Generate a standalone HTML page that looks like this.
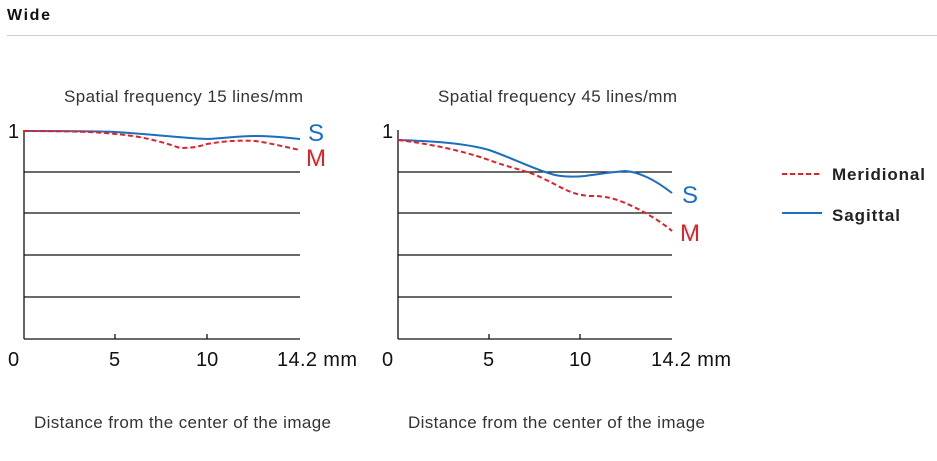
<!DOCTYPE html>
<html><head><style>
body{margin:0;background:#fff;width:937px;height:456px;overflow:hidden;font-family:"Liberation Sans",sans-serif}
</style></head><body>
<svg width="937" height="456" xmlns="http://www.w3.org/2000/svg" font-family="Liberation Sans, sans-serif">
<text x="7" y="20" font-size="16" font-weight="bold" fill="#111" textLength="43">Wide</text>
<line x1="7" y1="35.5" x2="937" y2="35.5" stroke="#ccc" stroke-width="1"/>
<g fill="#333" font-size="17">
<text x="64" y="102" textLength="239">Spatial frequency 15 lines/mm</text>
<text x="438" y="102" textLength="239">Spatial frequency 45 lines/mm</text>
<text x="34" y="428" textLength="297">Distance from the center of the image</text>
<text x="408" y="428" textLength="297">Distance from the center of the image</text>
</g>
<g stroke="#111" stroke-width="1.3">
<line x1="24" y1="130" x2="24" y2="339"/><line x1="24" y1="339" x2="300" y2="339"/>
<line x1="24" y1="172" x2="300" y2="172"/><line x1="24" y1="213" x2="300" y2="213"/>
<line x1="24" y1="255" x2="300" y2="255"/><line x1="24" y1="297" x2="300" y2="297"/>
<line x1="115" y1="334" x2="115" y2="339"/><line x1="207" y1="334" x2="207" y2="339"/>
<line x1="398" y1="130" x2="398" y2="339"/><line x1="398" y1="339" x2="672" y2="339"/>
<line x1="398" y1="172" x2="672" y2="172"/><line x1="398" y1="213" x2="672" y2="213"/>
<line x1="398" y1="255" x2="672" y2="255"/><line x1="398" y1="297" x2="672" y2="297"/>
<line x1="489" y1="334" x2="489" y2="339"/><line x1="580" y1="334" x2="580" y2="339"/>
</g>
<g font-size="20" fill="#111">
<text x="8" y="138">1</text><text x="382" y="138">1</text>
<text x="8" y="366">0</text><text x="109" y="366">5</text><text x="196" y="366">10</text><text x="277" y="366" textLength="80">14.2 mm</text>
<text x="382" y="366">0</text><text x="483" y="366">5</text><text x="569" y="366">10</text><text x="651" y="366" textLength="80">14.2 mm</text>
</g>
<g fill="none" stroke-width="2">
<path d="M24,131 C70,131 100,131 115,132 C150,134 180,138 207,139 C225,138 240,136 255,136 C275,136 290,138 300,139" stroke="#1a6fc0"/>
<path d="M24,131 C70,131 100,132 115,134 C140,136 160,141 180,148 C195,148 200,146 207,144 C225,141 240,140 255,141 C270,143 285,147 300,150" stroke="#e0202a" stroke-dasharray="5,3"/>
<path d="M398,140 C430,141 465,143 489,150 C515,159 535,170 555,175 C565,177 575,177 585,176 C600,174 612,172 625,171 C640,172 655,180 672,193" stroke="#1a6fc0"/>
<path d="M398,140 C430,144 460,150 489,160 C510,168 525,170 540,177 C560,186 570,195 590,196 C610,196 620,200 640,210 C655,218 665,225 672,231" stroke="#e0202a" stroke-dasharray="5,3"/>
</g>
<g font-size="24">
<text x="308" y="141" fill="#1a6fc0">S</text><text x="306" y="166" fill="#e0202a">M</text>
<text x="682" y="203" fill="#1a6fc0">S</text><text x="680" y="241" fill="#e0202a">M</text>
</g>
<line x1="782" y1="174" x2="822" y2="174" stroke="#e0202a" stroke-width="2" stroke-dasharray="5,3"/>
<line x1="782" y1="213" x2="822" y2="213" stroke="#1a6fc0" stroke-width="2"/>
<g font-size="17" font-weight="bold" fill="#222">
<text x="832" y="180" textLength="93">Meridional</text><text x="832" y="221" textLength="68">Sagittal</text>
</g>
</svg>
</body></html>
